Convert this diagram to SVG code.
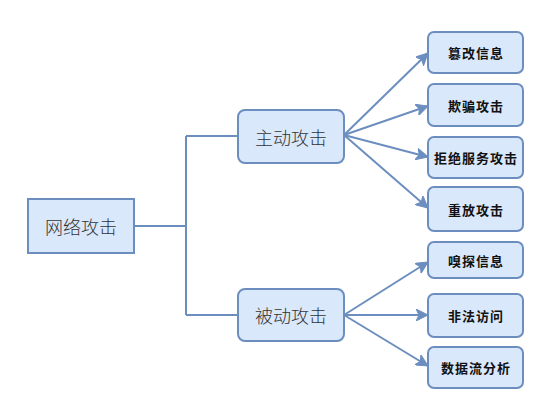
<svg xmlns="http://www.w3.org/2000/svg" width="547" height="406" viewBox="0 0 547 406">
<style>
.box{fill:#dae8fc;stroke:#6c8ebf;stroke-width:2}
.main{font-family:"Noto Sans CJK SC","Liberation Sans",sans-serif;font-size:18px;fill:#333;font-weight:300;text-anchor:middle;dominant-baseline:central}
.leaf{font-family:"Noto Sans CJK SC","Liberation Sans",sans-serif;font-size:13px;fill:#111;font-weight:bold;text-anchor:middle;dominant-baseline:central;letter-spacing:1px}
.edge{fill:none;stroke:#6c8ebf;stroke-width:2}
.arr{fill:none;stroke:#6c8ebf;stroke-width:2;marker-end:url(#ah)}
</style>
<defs>
<marker id="ah" markerUnits="userSpaceOnUse" markerWidth="14" markerHeight="12" refX="12" refY="6" orient="auto">
<path d="M0,0 L12,6 L0,12 L3,6 Z" fill="#6c8ebf" stroke="#6c8ebf" stroke-width="1"/>
</marker>
</defs>
<rect width="547" height="406" fill="#fff"/>
<g id="connectors">
<path class="edge" d="M134,226 H186 M186,136 V315 M186,136 H238 M186,315 H238"/>
<line class="arr" x1="344" y1="135" x2="428" y2="53"/>
<line class="arr" x1="344" y1="135" x2="428" y2="106"/>
<line class="arr" x1="344" y1="135" x2="428" y2="157"/>
<line class="arr" x1="344" y1="135" x2="428" y2="208"/>
<line class="arr" x1="344" y1="315" x2="428" y2="262"/>
<line class="arr" x1="344" y1="315" x2="428" y2="315"/>
<line class="arr" x1="344" y1="315" x2="428" y2="366"/>
</g>
<g id="n-root"><rect class="box" x="28" y="199" width="106" height="54"/><text class="main" x="81" y="226">网络攻击</text></g>
<g id="n-active"><rect class="box" x="238" y="110" width="106" height="53" rx="7"/><text class="main" x="291" y="136.5">主动攻击</text></g>
<g id="n-passive"><rect class="box" x="238" y="289" width="106" height="52" rx="7"/><text class="main" x="291" y="315">被动攻击</text></g>
<g id="n-tamper"><rect class="box" x="428" y="32" width="95" height="41" rx="6"/><text class="leaf" x="476" y="52.5">篡改信息</text></g>
<g id="n-spoof"><rect class="box" x="428" y="84" width="95" height="42" rx="6"/><text class="leaf" x="476" y="105">欺骗攻击</text></g>
<g id="n-dos"><rect class="box" x="428" y="137" width="95" height="41" rx="6"/><text class="leaf" x="476" y="157.5">拒绝服务攻击</text></g>
<g id="n-replay"><rect class="box" x="428" y="187" width="95" height="44" rx="6"/><text class="leaf" x="476" y="209">重放攻击</text></g>
<g id="n-sniff"><rect class="box" x="428" y="242" width="95" height="36" rx="6"/><text class="leaf" x="476" y="260">嗅探信息</text></g>
<g id="n-unauth"><rect class="box" x="428" y="294" width="95" height="43" rx="6"/><text class="leaf" x="476" y="315.5">非法访问</text></g>
<g id="n-flow"><rect class="box" x="428" y="347" width="95" height="41" rx="6"/><text class="leaf" x="476" y="367.5">数据流分析</text></g>
</svg>
